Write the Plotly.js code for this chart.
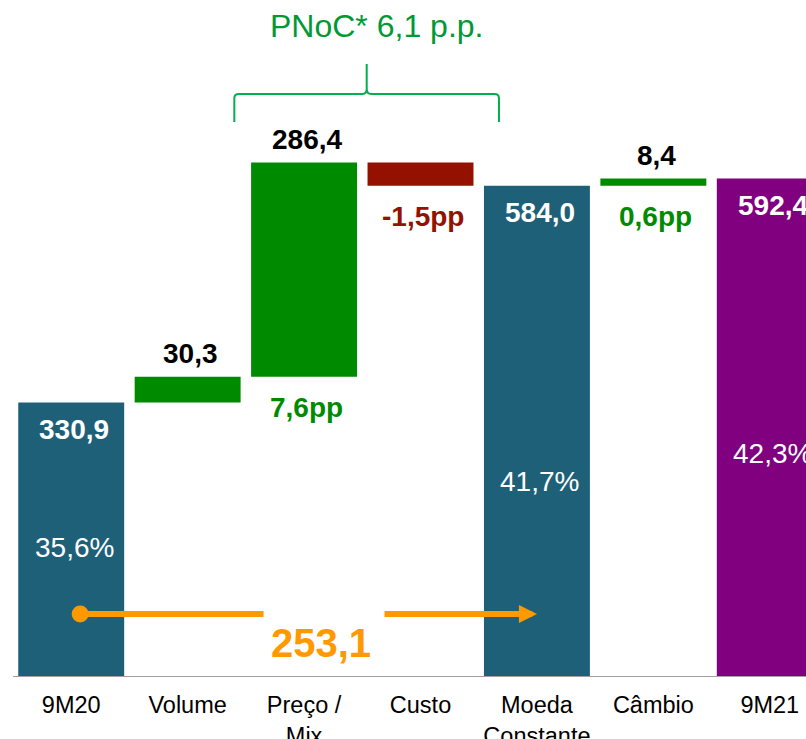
<!DOCTYPE html>
<html>
<head>
<meta charset="utf-8">
<script src="https://cdn.plot.ly/plotly-3.0.1.min.js"></script>
<style>
  html, body { margin: 0; padding: 0; overflow: hidden; background: #fff; }
  #chart { width: 828px; height: 760px; }
</style>
</head>
<body>
<div id="chart"></div>
<script>
// waterfall values (drawn heights, labels as printed)
const categories = ['9M20', 'Volume', 'Preço /<br>Mix', 'Custo', 'Moeda<br>Constante', 'Câmbio', '9M21'];
const measures = ['absolute', 'relative', 'relative', 'relative', 'total', 'relative', 'total'];
const stepValues = [330.9, 30.3, 249.8, -27.0, 584.0, 8.4, 592.4];
const valueLabels = ['330,9', '30,3', '286,4', '', '584,0', '8,4', '592,4'];
const marginLabels = ['35,6%', '', '7,6pp', '-1,5pp', '41,7%', '0,6pp', '42,3%'];
const bracketLabel = 'PNoC* 6,1 p.p.';
const growthLabel = '253,1';

const FONT = 'Arial, "Liberation Sans", sans-serif';
const TEAL = '#1F6079', GREEN = '#008A00', RED = '#941100', PURPLE = '#800080', ORANGE = '#FF9900';

const idx = categories.map((_, i) => i);
const bases = [], heights = [], colors = [];
let running = 0;
stepValues.forEach((v, i) => {
  const m = measures[i];
  if (m === 'relative') {
    bases.push(v < 0 ? running + v : running);
    heights.push(Math.abs(v));
    colors.push(v < 0 ? RED : GREEN);
    running += v;
  } else {
    bases.push(0);
    heights.push(v);
    colors.push(i === categories.length - 1 ? PURPLE : TEAL);
    running = v;
  }
});

const annotations = [];
// value labels: inside the totals, above the steps
idx.forEach(i => {
  if (!valueLabels[i]) return;
  const top = bases[i] + heights[i];
  const inside = measures[i] !== 'relative';
  annotations.push({
    x: i, y: top, xref: 'x', yref: 'y', showarrow: false,
    text: '<b>' + valueLabels[i] + '</b>',
    yanchor: 'middle', yshift: inside ? -27 : 23, xshift: 3,
    font: { family: FONT, size: 28, color: inside ? '#fff' : '#000' }
  });
});
// margin labels: percentages inside totals, pp changes under the steps
const pctY = { 0: 162.4, 4: 238.3, 6: 272.1 };
idx.forEach(i => {
  if (!marginLabels[i]) return;
  if (measures[i] !== 'relative') {
    annotations.push({
      x: i, y: pctY[i], xref: 'x', yref: 'y', showarrow: false,
      text: marginLabels[i], yanchor: 'middle', xshift: 3,
      font: { family: FONT, size: 28, color: '#fff' }
    });
  } else {
    annotations.push({
      x: i, y: bases[i], xref: 'x', yref: 'y', showarrow: false,
      text: '<b>' + marginLabels[i] + '</b>', yanchor: 'middle', yshift: -31, xshift: 2,
      font: { family: FONT, size: 28, color: stepValues[i] < 0 ? RED : GREEN }
    });
  }
});

// growth arrow 9M20 -> Moeda Constante
const arrowY = 84.2;
annotations.push({
  x: 4.0, y: arrowY, ax: 2.678, ay: arrowY, xref: 'x', yref: 'y', axref: 'x', ayref: 'y',
  text: '', showarrow: true, arrowhead: 2, arrowsize: 0.6, arrowwidth: 6, arrowcolor: ORANGE, standoff: 0
});
annotations.push({
  x: 2.145, y: 50.4, xref: 'x', yref: 'y', showarrow: false,
  text: '<b>' + growthLabel + '</b>', yanchor: 'middle',
  font: { family: FONT, size: 40, color: ORANGE }
});
// bracket title
annotations.push({
  x: 2.624, y: 770.4, xref: 'x', yref: 'y', showarrow: false,
  text: bracketLabel, yanchor: 'middle',
  font: { family: FONT, size: 32, color: '#009933' }
});

const bracePath = [
  'M1.401,658.3 L1.401,686 Q1.401,690.9 1.44,690.9',
  'L2.50,690.9 Q2.538,690.9 2.538,697 L2.538,725.9',
  'M2.538,697 Q2.538,690.9 2.576,690.9 L3.635,690.9',
  'Q3.674,690.9 3.674,686 L3.674,658.3'
].join(' ');

const traces = [
  {
    type: 'bar', x: idx, y: heights, base: bases, width: 0.91,
    marker: { color: colors, line: { width: 0 } }, hoverinfo: 'skip'
  },
  {
    type: 'scatter', mode: 'lines', x: [0.077, 1.652], y: [arrowY, arrowY],
    line: { color: ORANGE, width: 6 }, hoverinfo: 'skip'
  },
  {
    type: 'scatter', mode: 'markers', x: [0.077], y: [arrowY],
    marker: { color: ORANGE, size: 17, opacity: 1, line: { width: 0 } }, hoverinfo: 'skip'
  }
];

const layout = {
  width: 828, height: 760,
  margin: { l: 13, r: 0, t: 0, b: 84 },
  paper_bgcolor: '#fff', plot_bgcolor: '#fff',
  showlegend: false,
  font: { family: FONT },
  xaxis: {
    type: 'linear', range: [-0.5, 6.5], tickvals: idx, ticktext: categories,
    showgrid: false, zeroline: false, showline: true, linecolor: '#A0A0A0', linewidth: 1,
    ticks: '', ticklabelstandoff: 8, tickfont: { family: FONT, size: 23.5, color: '#000' }
  },
  yaxis: {
    range: [11.9, 800.7], visible: false, showgrid: false, zeroline: false
  },
  shapes: [
    { type: 'path', xref: 'x', yref: 'y', path: bracePath, line: { color: '#00B050', width: 2 } }
  ],
  annotations: annotations
};

Plotly.newPlot('chart', traces, layout, { displayModeBar: false, staticPlot: true });
</script>
</body>
</html>
